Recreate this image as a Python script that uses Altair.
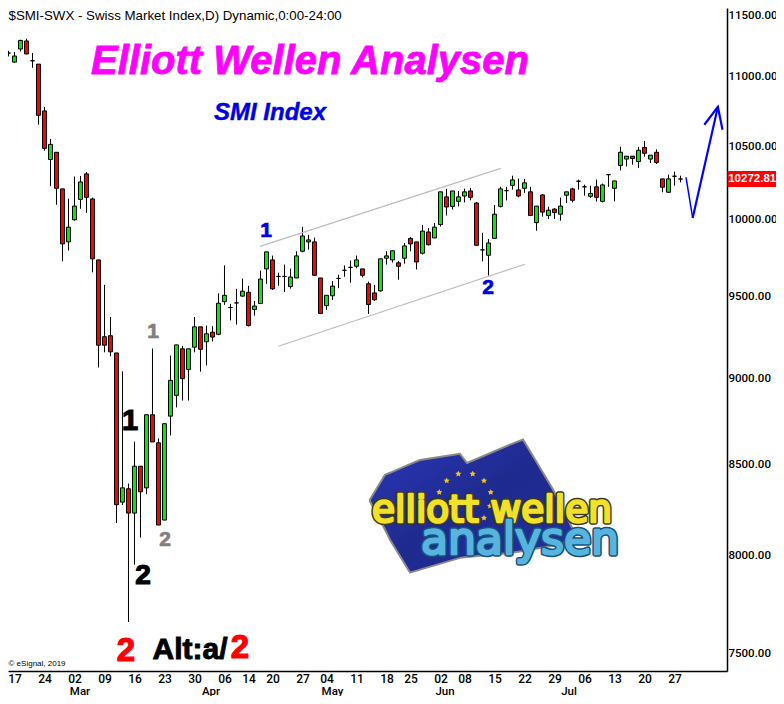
import altair as alt
import pandas as pd

opens = [11107,11169,11102,11199,11259,11112,11087,10748,10407,10457,10206,9853,9999,10135,10308,10138,9736,9252,9258,9153,8290,8364,8230,8490,8369,8785,8623,8192,8777,8899,9178,9053,9188,9313,9221,9280,9267,9470,9433,9462,9505,9529,9421,9458,9678,9736,9630,9630,9565,9620,9792,9853,9853,9620,9445,9507,9617,9669,9688,9695,9678,9583,9525,9538,9747,9736,9717,9747,9876,9853,9779,9918,9879,9967,10152,10088,10122,10158,10192,10111,9801,9766,9876,10088,10194,10230,10199,10210,10186,9980,10165,10027,10070,10036,10163,10206,10258,10220,10156,10220,10122,10303,10210,10366,10410,10430,10393,10491,10410,10457,10274,10183,10292,10273]
highs = [11151,11186,11177,11268,11276,11169,11087,10777,10550,10457,10206,10140,10290,10294,10321,10147,9736,9576,9374,9153,9042,8393,8630,8490,8785,9180,8648,8733,9137,9202,9196,9178,9374,9313,9321,9317,9523,9701,9456,9551,9616,9570,9474,9667,9788,9764,9654,9706,9680,9792,9952,9900,9881,9620,9510,9600,9641,9701,9732,9764,9678,9597,9576,9743,9792,9795,9729,9846,9885,9853,9965,9944,9978,10186,10206,10192,10192,10208,10213,10118,9913,9872,10097,10220,10220,10296,10276,10274,10220,10090,10172,10086,10077,10147,10186,10213,10269,10235,10228,10269,10242,10303,10260,10495,10430,10430,10495,10536,10437,10478,10274,10303,10323,10296]
lows = [11087,11144,11099,11181,11162,11060,10650,10468,10224,10099,9727,9797,9993,10072,10045,9656,9065,9157,9133,8176,8274,7656,7953,8097,8334,8628,8165,8192,8665,8828,8868,8868,9157,9040,9077,9223,9261,9450,9353,9327,9501,9315,9382,9458,9583,9544,9570,9531,9552,9620,9786,9803,9637,9396,9419,9480,9555,9628,9589,9682,9624,9393,9474,9533,9706,9719,9609,9712,9792,9674,9771,9829,9879,9954,10027,10067,10088,10115,10129,9831,9727,9635,9876,10081,10128,10201,10149,10179,10027,9926,10020,10004,10004,9993,10111,10115,10201,10160,10145,10120,10115,10220,10122,10332,10359,10371,10349,10427,10383,10376,10183,10179,10228,10250]
closes = [11129,11169,11147,11263,11162,11112,10717,10484,10512,10210,9840,9950,10090,10253,10149,9743,9200,9200,9160,8276,8369,8230,8490,8347,8785,8628,8165,8733,8988,9202,8998,9178,9313,9175,9270,9250,9460,9510,9433,9462,9536,9321,9442,9613,9788,9551,9630,9630,9626,9762,9892,9866,9637,9396,9510,9568,9617,9669,9688,9736,9637,9452,9482,9743,9762,9795,9695,9827,9840,9723,9924,9835,9950,10186,10084,10192,10152,10186,10149,9831,9801,9846,10036,10206,10194,10267,10158,10247,10027,10090,10050,10063,10047,10090,10186,10129,10258,10220,10175,10149,10233,10303,10260,10457,10430,10414,10471,10450,10437,10387,10217,10274,10292,10273]

y_ticks = [7500, 8000, 8500, 9000, 9500, 10000, 10500, 11000, 11500]
x_tick_pos = [2,7,12,17,22,27,32,37,41,45,50,54,59,64,68,73,77,82,87,92,97,102,107,112]
x_tick_txt = ["17","24","02","09","16","23","30","06","14","20","27","04","11","18","25","02","08","15","22","29","06","13","20","27"]
month_names = ["Mar","Apr","May","Jun","Jul"]
month_pos = [12.92,34.75,55,73.75,94.42]

upper_x = [42.92, 83.03]; upper_p = [9824, 10346]
lower_x = [45.97, 87.08]; lower_p = [9194, 9708]

arrow_thin_x = [113.92, 115.03]; arrow_thin_p = [10285, 10011]
arrow_up_x = [115.03, 119.23]; arrow_up_p = [10011, 10777]
arrow_head_x = [116.97, 119.23, 120.0]; arrow_head_p = [10650, 10777, 10614]

flag_x = [61.25,63.75,64.58,67.92,69.58,76.25,77.42,84.58,86.75,91.75,95.08]
flag_top = [8305,8442,8453,8502,8525,8560,8508,8613,8642,8360,8141]
flag_bot = [8294,8141,8086,7911,7927,7989,7994,8015,8026,8053,8086]
star_x = [74.03,75.97,78.36,80.25,81.37,81.25,80.25,73.75,72.8]
star_p = [8409,8447,8447,8409,8345,8269,8203,8214,8345]

notes = [
    # text, x index, price, size, colour, bold, italic, align, outline
    ("Elliott Wellen Analysen", 51.25, 11104, 40, "#ff00ff", "bold", "italic", "center", 0.8),
    ("SMI Index", 44.58, 10736, 24, "#0000e6", "bold", "italic", "center", 0.4),
    ("1", 43.92, 9926, 21, "#0000e6", "bold", "normal", "center", 0.7),
    ("2", 80.92, 9555, 21, "#0000e6", "bold", "normal", "center", 0.7),
    ("1", 25.08, 9284, 21, "#808080", "bold", "normal", "center", 0.7),
    ("2", 27.08, 8086, 21, "#808080", "bold", "normal", "center", 0.7),
    ("1", 21.25, 8746, 29, "#000000", "bold", "normal", "center", 1.2),
    ("2", 23.42, 7891, 28, "#000000", "bold", "normal", "center", 1.2),
    ("2", 20.58, 7510, 33, "#ff0000", "bold", "normal", "center", 1.2),
    ("Alt:a/", 31.25, 7515, 30, "#000000", "bold", "normal", "center", 0.9),
    ("2", 39.58, 7526, 33, "#ff0000", "bold", "normal", "center", 1.2),
    ("$SMI-SWX - Swiss Market Index,D) Dynamic,0:00-24:00", 1, 11448, 13.3, "#000000", "normal", "normal", "left", 0),
    ("\u00a9 eSignal, 2019", 1, 7444, 8, "#000000", "normal", "normal", "left", 0),
]

last_price = 10272.81
tag_x = [120.83, 129.0]
tag_p = [10219, 10328]

PW, PH = 719, 663
x_scale = alt.Scale(domain=[0.91667, 120.75], nice=False, zero=False, padding=0)
y_scale = alt.Scale(type="log", domain=[7411, 11508], nice=False, zero=False, padding=0)
X = lambda f="i", **k: alt.X(f"{f}:Q", scale=x_scale, axis=None, **k)
Y = lambda f="p", **k: alt.Y(f"{f}:Q", scale=y_scale, axis=None, **k)

df = pd.DataFrame({"i": range(len(opens)), "o": opens, "h": highs, "l": lows, "c": closes})
df["col"] = ["#ff0000" if c < o else "#00ee00" for o, c in zip(opens, closes)]

labels_expr = "[" + ",".join(f"'{t}'" for t in x_tick_txt) + "][indexof([" + ",".join(map(str, x_tick_pos)) + "], datum.value)]"

wicks = alt.Chart(df).mark_rule(color="black", strokeWidth=1).encode(
    x=alt.X("i:Q", scale=x_scale, title=None, axis=alt.Axis(
        values=x_tick_pos, labelExpr=labels_expr, ticks=False, grid=False, domainColor="black",
        domainWidth=1.5, labelFont="Roboto", labelFontWeight=500, labelFontSize=12, labelColor="black",
        labelPadding=2, labelOverlap=False, labelFlush=False, labelBound=False, labelAngle=0)),
    y=alt.Y("h:Q", scale=y_scale, title=None, axis=alt.Axis(
        orient="right", values=y_ticks, format=".2f", ticks=False, grid=False, domainColor="black",
        domainWidth=1.5, labelFont="Roboto", labelFontWeight=500, labelFontSize=11.5, labelColor="black",
        labelPadding=1, labelOverlap=False, labelFlush=False, labelBound=False,
        labelBaseline={"expr": "datum.value == 11500 ? 'top' : 'middle'"})),
    y2="l:Q",
)
bodies = alt.Chart(df).mark_bar(width=4, stroke="black", strokeWidth=1).encode(
    x=X(), y=Y("o"), y2="c:Q", color=alt.Color("col:N", scale=None),
)

def seg(xs, ps, color, w):
    d = pd.DataFrame({"i": xs, "p": ps, "n": range(len(xs))})
    return alt.Chart(d).mark_line(color=color, strokeWidth=w).encode(x=X(), y=Y(), order="n:Q")

lines = [
    seg(upper_x, upper_p, "#bdbdbd", 1.2),
    seg(lower_x, lower_p, "#bdbdbd", 1.2),
    seg(arrow_thin_x, arrow_thin_p, "#0000ff", 1.5),
    seg(arrow_up_x, arrow_up_p, "#0000ff", 2.2),
    seg(arrow_head_x, arrow_head_p, "#0000ff", 2.2),
]

flag_df = pd.DataFrame({"i": flag_x, "t": flag_top, "b": flag_bot})
flag = alt.Chart(flag_df).mark_area(
    stroke="#8a8a8a", strokeWidth=2,
    color=alt.Gradient(gradient="linear", x1=0, x2=1, y1=0, y2=1,
                       stops=[alt.GradientStop(color="#2b36b8", offset=0),
                              alt.GradientStop(color="#1f2a8e", offset=0.5),
                              alt.GradientStop(color="#232fa0", offset=1)]),
).encode(x=X(), y=Y("t"), y2="b:Q")

STAR = "M0,-1L0.29,-0.4L0.95,-0.31L0.48,0.15L0.59,0.81L0,0.5L-0.59,0.81L-0.48,0.15L-0.95,-0.31L-0.29,-0.4Z"
stars = alt.Chart(pd.DataFrame({"i": star_x, "p": star_p})).mark_point(
    shape=STAR, filled=True, color="#f2c418", size=40, opacity=1).encode(x=X(), y=Y())

def logo_text(txt, ix, pr, size, outer, fill):
    d = pd.DataFrame({"i": [ix], "p": [pr], "t": [txt]})
    base = dict(font="DejaVu Sans", fontSize=size, align="left", baseline="alphabetic", fontWeight="normal")
    a = alt.Chart(d).mark_text(stroke=outer, strokeWidth=5.5, strokeJoin="round", fill=outer, **base).encode(x=X(), y=Y(), text="t:N")
    b = alt.Chart(d).mark_text(stroke=fill, strokeWidth=2.5, strokeJoin="round", fill=fill, **base).encode(x=X(), y=Y(), text="t:N")
    return [a, b]

logo = logo_text("elliott wellen", 61.58, 8179, 37.5, "#3a3a12", "#f2e02a") + \
       logo_text("analysen", 69.75, 8010, 44, "#14527c", "#58b4de")

nd = pd.DataFrame(notes, columns=["t", "i", "p", "s", "col", "w", "st", "al", "ow"])
note_layers = []
for k, r in enumerate(nd.itertuples()):
    kw = dict(stroke=r.col, strokeWidth=float(r.ow)) if r.ow > 0 else {}
    note_layers.append(alt.Chart(nd.iloc[[k]]).mark_text(
        font="Liberation Sans", fontSize=float(r.s), color=r.col, fontWeight=r.w, fontStyle=r.st,
        align=r.al, baseline="middle", **kw).encode(x=X(), y=Y(), text="t:N"))

tag = alt.Chart(pd.DataFrame({"i": [tag_x[0]], "i2": [tag_x[1]], "p": [tag_p[0]], "p2": [tag_p[1]]})).mark_rect(
    color="#ff0000").encode(x=X(), x2="i2:Q", y=Y(), y2="p2:Q")
tag_txt = alt.Chart(pd.DataFrame({"i": [124.95], "p": [last_price], "t": [f"{last_price:.2f}"]})).mark_text(
    font="Liberation Sans", fontSize=11.5, fontWeight="bold", color="white", baseline="middle").encode(x=X(), y=Y(), text="t:N")

months = alt.Chart(pd.DataFrame({"i": month_pos, "t": month_names})).mark_text(
    font="Roboto", fontWeight=500, fontSize=11.5, color="black", baseline="middle").encode(
    x=X(), y=alt.value(683.5), text="t:N")

chart = alt.layer(wicks, bodies, *lines, flag, stars, *logo, *note_layers, tag, tag_txt, months).resolve_axis(
    x="independent", y="independent"
).properties(
    width=PW, height=PH,
    padding={"left": 0, "top": 0, "right": 49, "bottom": 25},
    autosize=alt.AutoSizeParams(type="none"),
    background="white",
).configure_view(stroke=None)

chart.save("out.html", embed_options={"renderer": "svg", "actions": False})
